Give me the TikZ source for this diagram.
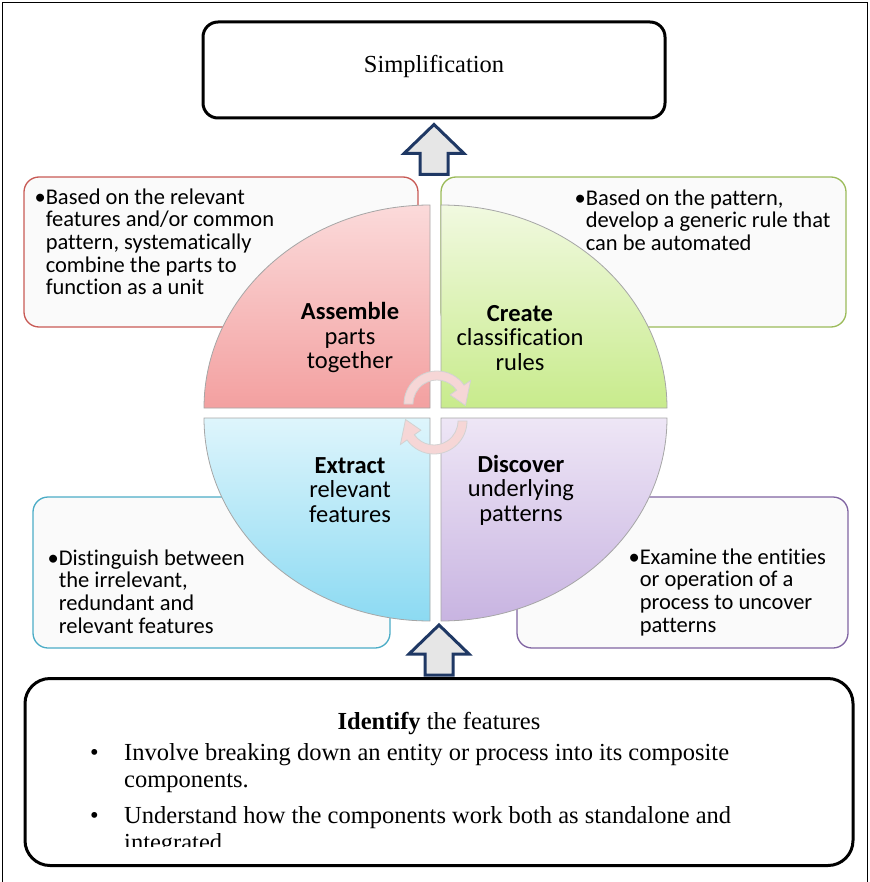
\documentclass[tikz,border=0pt]{standalone}
\usepackage{fontspec}
\setmainfont{Liberation Serif}
\newfontfamily\calibri[Ligatures=NoCommon]{Carlito}
\usetikzlibrary{
		calc,
		positioning
	}
\definecolor{redline}{RGB}{200,90,85}
\definecolor{greenline}{RGB}{155,187,89}
\definecolor{blueline}{RGB}{75,172,198}
\definecolor{purpleline}{RGB}{128,100,162}
\definecolor{boxfill}{RGB}{250,250,250}
\definecolor{navy}{RGB}{31,56,100}
\definecolor{arrowfill}{RGB}{230,230,230}
\definecolor{cycfill}{RGB}{246,214,214}
\tikzset{
		>=stealth,
		infobox/.style={draw, line width=1.3pt, rounded corners=15pt, fill=boxfill, inner sep=0pt},
		mainbox/.style={draw=black, line width=3pt, fill=white, inner sep=0pt},
		boxtext/.style={font=\calibri\fontsize{22.5}{22.7}\selectfont, align=left, inner sep=0pt, anchor=north west},
		quadtext/.style={font=\calibri\fontsize{24.5}{24.5}\selectfont, align=center, inner sep=0pt},
		quadline/.style={draw=gray!70, line width=0.8pt},
		cycarrow/.style={fill=cycfill, draw=gray!35, line width=0.8pt},
		blockarrow/.style={draw=navy, line width=3pt, fill=arrowfill, line join=miter},
		blockup/.pic={
				\filldraw[blockarrow] (-14,50) -- (-14,29) -- (-30,29) -- (0,0)
					-- (30,29) -- (14,29) -- (14,50) -- cycle;
			}
	}
\newcommand{\bul}{\textbullet}
\newcommand{\ind}{\hphantom{\textbullet}}

\begin{document}
\begin{tikzpicture}[x=1pt,y=-1pt]
        \useasboundingbox (0,0) rectangle (869,882);
        % the frame round the figure
        \draw[line width=0.8pt] (2,882) -- (2,2) -- (867,2) -- (867,882);

        % the top and the bottom boxes
        \node[mainbox, rounded corners=15pt, minimum width=462, minimum height=96] (simp) at (434,70) {};
        \node[font=\fontsize{24.5}{27}\selectfont, inner sep=0pt] (simptxt) at ([yshift=4]simp.center) {Simplification};
        \node[mainbox, rounded corners=25pt, minimum width=828, minimum height=187] (ident) at (439,772) {};

        % the boxes with the explanations
        \node[infobox, draw=redline, minimum width=394, minimum height=150] (redbox) at (221,252) {};
        \node[infobox, draw=greenline, minimum width=405, minimum height=150] (greenbox) at (643.5,252) {};
        \node[infobox, draw=blueline, minimum width=357, minimum height=151] (bluebox) at (211.5,572.5) {};
        \node[infobox, draw=purpleline, minimum width=331, minimum height=151] (purplebox) at (682.5,572.5) {};

        % the texts in the boxes
        \node[boxtext] (redtxt) at ([shift={(11,12)}]redbox.north west)
            {\bul Based on the relevant\\\ind features and/or common\\\ind pattern, systematically\\\ind combine the parts to\\\ind function as a unit};
        \node[boxtext] (greentxt) at ([shift={(134,13)}]greenbox.north west)
            {\bul Based on the pattern,\\\ind develop a generic rule that\\\ind can be automated};
        \node[boxtext] (bluetxt) at ([shift={(15,53)}]bluebox.north west)
            {\bul Distinguish between\\\ind the irrelevant,\\\ind redundant and\\\ind relevant features};
        \node[boxtext] (purpletxt) at ([shift={(112,52)}]purplebox.north west)
            {\bul Examine the entities\\\ind or operation of a\\\ind process to uncover\\\ind patterns};

        % the four quarters of the disc
        \path[quadline, top color={rgb,255:red,251;green,218;blue,218}, bottom color={rgb,255:red,243;green,160;blue,160}]
            (430,408) -- ++(-226,0) arc[start angle=180, end angle=270, x radius=226, y radius=203] -- cycle;
        \path[quadline, top color={rgb,255:red,241;green,249;blue,224}, bottom color={rgb,255:red,200;green,235;blue,140}]
            (441,408) -- ++(0,-203) arc[start angle=270, end angle=360, x radius=226, y radius=203] -- cycle;
        \path[quadline, top color={rgb,255:red,222;green,245;blue,252}, bottom color={rgb,255:red,140;green,218;blue,242}]
            (430,418) -- ++(-226,0) arc[start angle=180, end angle=90, x radius=226, y radius=203] -- cycle;
        \path[quadline, top color={rgb,255:red,238;green,230;blue,246}, bottom color={rgb,255:red,200;green,180;blue,225}]
            (441,418) -- ++(226,0) arc[start angle=0, end angle=90, x radius=226, y radius=203] -- cycle;

        % the labels of the quarters
        \node[quadtext] (assemble) at (350,338) {\textbf{Assemble}\\parts\\together};
        \node[quadtext] (create) at (520,338) {\textbf{Create}\\classification\\rules};
        \node[quadtext] (extract) at (350,490) {\textbf{Extract}\\relevant\\features};
        \node[quadtext] (discover) at (521,490) {\textbf{Discover}\\underlying\\patterns};

        % the two round arrows in the middle
        \coordinate (cyctop) at (437,404);
        \coordinate (cycbot) at (434,421);
        \filldraw[cycarrow] ($(cyctop)+(180:33)$) arc[start angle=180, end angle=325, radius=33]
            -- ($(cyctop)+(325:41)$) -- ($(cyctop)+(3:28.5)$) -- ($(cyctop)+(325:16)$)
            -- ($(cyctop)+(325:24)$) arc[start angle=325, end angle=180, radius=24] -- cycle;
        \filldraw[cycarrow] ($(cycbot)+(0:33)$) arc[start angle=0, end angle=145, radius=33]
            -- ($(cycbot)+(145:41)$) -- ($(cycbot)+(183:28.5)$) -- ($(cycbot)+(145:16)$)
            -- ($(cycbot)+(145:24)$) arc[start angle=145, end angle=0, radius=24] -- cycle;

        % the two block arrows (y points down here, so a shift up is negative)
        \pic at ([yshift=-5]simp.south) {blockup};
        \pic at ([yshift=52]ident.north) {blockup};

        % the text of the bottom box
        \node[font=\fontsize{24.5}{27}\selectfont, inner sep=0pt] (idtitle) at (439,724)
            {\textbf{Identify} the features};
        \begin{scope}
            \clip (25,680) rectangle (853,846);
            \node[font=\fontsize{24.5}{27}\selectfont, align=left, inner sep=0pt, anchor=north west] (idlist) at (90,743)
                {\makebox[34pt][l]{\textbullet}Involve breaking down an entity or process into its composite\\
                \hspace*{34pt}components.\\[9pt]
                \makebox[34pt][l]{\textbullet}Understand how the components work both as standalone and\\
                \hspace*{34pt}integrated};
        \end{scope}
\end{tikzpicture}
\end{document}
